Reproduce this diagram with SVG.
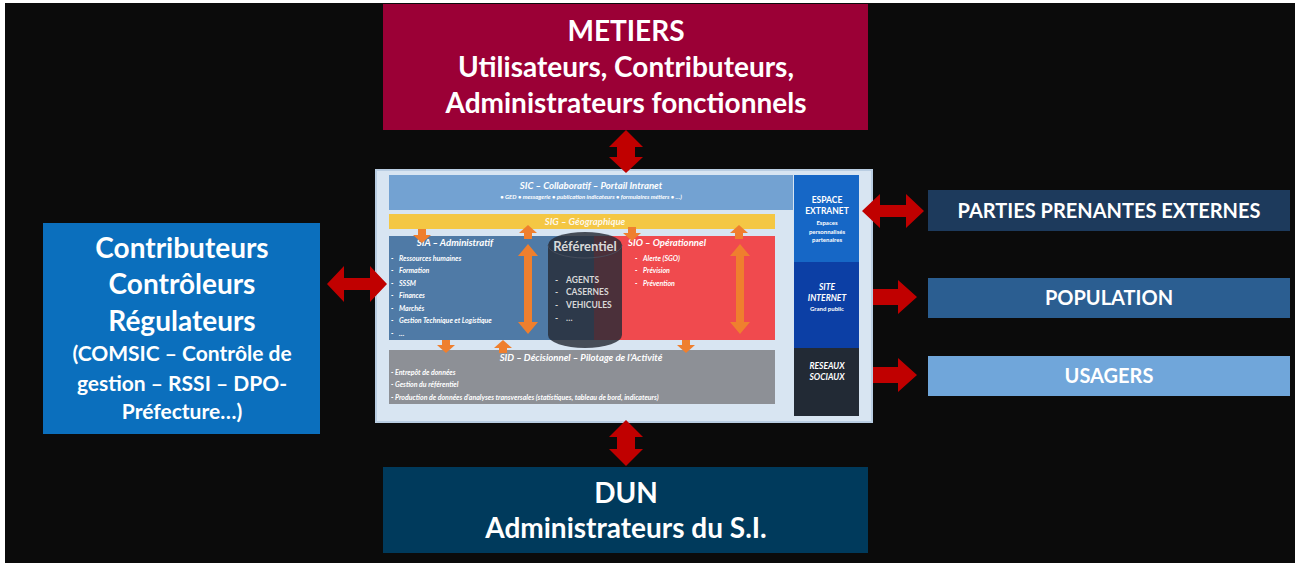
<svg xmlns="http://www.w3.org/2000/svg" width="1295" height="563" viewBox="0 0 1295 563">
<defs>
<style>
.t{font-family:Lato,"Liberation Sans",sans-serif;font-weight:bold;fill:#fff;text-anchor:middle}
.big{font-size:28px}
.mid{font-size:20px}
.s{font-family:Lato,"Liberation Sans",sans-serif;font-weight:bold;font-style:italic;fill:#fff}
.ref{font-family:Lato,"Liberation Sans",sans-serif;font-weight:bold;fill:#d8d8d8}
.red{fill:#c00000}
.or{fill:#ef7f2e}
</style>
</defs>
<rect x="0" y="0" width="1295" height="563" fill="#fff"/>
<rect x="5" y="3" width="1290" height="560" fill="#0b0b0b"/>

<g id="metiers">
<rect x="383" y="4" width="485" height="126" fill="#9b0036"/>
<text class="t big" x="626" y="41">METIERS</text>
<text class="t big" x="626" y="77">Utilisateurs, Contributeurs,</text>
<text class="t big" x="626" y="113">Administrateurs fonctionnels</text>
</g>

<g id="contributeurs">
<rect x="43" y="223" width="277" height="211" fill="#0b6fbd"/>
<text class="t" font-size="28" x="182" y="258">Contributeurs</text>
<text class="t" font-size="28" x="182" y="294">Contrôleurs</text>
<text class="t" font-size="28" x="182" y="331">Régulateurs</text>
<text class="t" font-size="21" x="182" y="361">(COMSIC – Contrôle de</text>
<text class="t" font-size="21" x="182" y="391">gestion – RSSI – DPO-</text>
<text class="t" font-size="21" x="182" y="419">Préfecture…)</text>
</g>

<g id="dun">
<rect x="383" y="467" width="485" height="86" fill="#003a5c"/>
<text class="t big" x="626" y="503">DUN</text>
<text class="t big" x="626" y="538">Administrateurs du S.I.</text>
</g>

<g id="parties">
<rect x="928" y="190" width="362" height="41" fill="#1d3a5c"/>
<text class="t mid" x="1109" y="218">PARTIES PRENANTES EXTERNES</text>
</g>
<g id="population">
<rect x="928" y="278" width="362" height="40" fill="#2b5e91"/>
<text class="t mid" x="1109" y="305">POPULATION</text>
</g>
<g id="usagers">
<rect x="928" y="356" width="362" height="40" fill="#70a6da"/>
<text class="t mid" x="1109" y="383">USAGERS</text>
</g>

<g id="si-map">
<rect x="376" y="170" width="496" height="252" fill="#d8e5f2"/>
<rect x="376" y="170" width="496" height="252" fill="none" stroke="#b9cde2" stroke-width="2"/>

<g id="sic">
<rect x="389" y="175" width="404" height="35" fill="#73a2d2"/>
<text class="s" font-size="9.6" x="591" y="189" text-anchor="middle">SIC – Collaboratif – Portail Intranet</text>
<text class="s" font-size="6" x="591" y="199" text-anchor="middle">• GED • messagerie • publication indicateurs • formulaires métiers • …)</text>
</g>

<g id="sig">
<rect x="389" y="214" width="386" height="15" fill="#f4c744"/>
<text class="s" font-size="9.6" x="585" y="225" text-anchor="middle" fill-opacity="0.9">SIG – Géographique</text>
</g>

<g id="sia">
<rect x="389" y="236" width="205" height="104" fill="#4f7aa6"/>
<text class="s" font-size="9.6" x="455" y="246" text-anchor="middle">SIA – Administratif</text>
<g font-size="7">
<text class="s" x="391" y="261">-</text><text class="s" x="399" y="261">Ressources humaines</text>
<text class="s" x="391" y="273">-</text><text class="s" x="399" y="273">Formation</text>
<text class="s" x="391" y="286">-</text><text class="s" x="399" y="286">SSSM</text>
<text class="s" x="391" y="298">-</text><text class="s" x="399" y="298">Finances</text>
<text class="s" x="391" y="311">-</text><text class="s" x="399" y="311">Marchés</text>
<text class="s" x="391" y="323">-</text><text class="s" x="399" y="323">Gestion Technique et Logistique</text>
<text class="s" x="391" y="336">-</text><text class="s" x="399" y="336">…</text>
</g>
</g>

<g id="sio">
<rect x="594" y="236" width="181" height="104" fill="#f04a4e"/>
<text class="s" font-size="9.6" x="667" y="246" text-anchor="middle">SIO – Opérationnel</text>
<g font-size="7">
<text class="s" x="635" y="261">-</text><text class="s" x="643" y="261">Alerte (SGO)</text>
<text class="s" x="635" y="273">-</text><text class="s" x="643" y="273">Prévision</text>
<text class="s" x="635" y="286">-</text><text class="s" x="643" y="286">Prévention</text>
</g>
</g>

<g id="sid">
<rect x="389" y="350" width="386" height="54" fill="#8d9096"/>
<text class="s" font-size="9.6" x="581" y="361" text-anchor="middle">SID – Décisionnel – Pilotage de l’Activité</text>
<g font-size="7">
<text class="s" x="391" y="375">- Entrepôt de données</text>
<text class="s" x="391" y="387">- Gestion du référentiel</text>
<text class="s" x="391" y="400">- Production de données d’analyses transversales  (statistiques, tableau de bord, indicateurs)</text>
</g>
</g>

<g id="referentiel">
<path d="M548,245 A37,13 0 0 1 622,245 L622,335 A37,13 0 0 1 548,335 Z" fill="#262b36" fill-opacity="0.82"/>
<path d="M548,245 A37,13 0 0 0 622,245" fill="none" stroke="#4a5060" stroke-width="0.8"/>
<text class="ref" font-size="13" x="585" y="251" text-anchor="middle">Référentiel</text>
<g font-size="8.5">
<text class="ref" x="555" y="283">-</text><text class="ref" x="566" y="283">AGENTS</text>
<text class="ref" x="555" y="295">-</text><text class="ref" x="566" y="295">CASERNES</text>
<text class="ref" x="555" y="308">-</text><text class="ref" x="566" y="308">VEHICULES</text>
<text class="ref" x="555" y="321">-</text><text class="ref" x="566" y="321">…</text>
</g>
</g>

<g id="extranet">
<rect x="794" y="175" width="65" height="87" fill="#1667c6"/>
<text class="t" font-size="8.5" x="827" y="203">ESPACE</text>
<text class="t" font-size="8.5" x="827" y="214">EXTRANET</text>
<text class="t" font-size="6" x="827" y="225">Espaces</text>
<text class="t" font-size="6" x="827" y="234">personnalisés</text>
<text class="t" font-size="6" x="827" y="242">partenaires</text>
</g>
<g id="internet">
<rect x="794" y="262" width="65" height="86" fill="#0c3fa5"/>
<text class="t" font-size="8.5" font-style="italic" x="827" y="290">SITE</text>
<text class="t" font-size="8.5" font-style="italic" x="827" y="301">INTERNET</text>
<text class="t" font-size="6" x="827" y="311">Grand public</text>
</g>
<g id="reseaux">
<rect x="794" y="348" width="65" height="68" fill="#222a35"/>
<text class="t" font-size="8.5" font-style="italic" fill="#e6e6e6" x="827" y="369">RESEAUX</text>
<text class="t" font-size="8.5" font-style="italic" fill="#e6e6e6" x="827" y="380">SOCIAUX</text>
</g>
</g>

<g id="connectors">
<!-- orange arrows -->
<path class="or" d="M418,229 h8 v6 h5 l-9,8 l-9,-8 h5 z"/>
<path class="or" d="M524,239 h8 v-6 h5 l-9,-8 l-9,8 h5 z"/>
<path class="or" d="M628,227 h8 v6 h5 l-9,8 l-9,-8 h5 z"/>
<path class="or" d="M735,239 h8 v-6 h5 l-9,-8 l-9,8 h5 z"/>
<path class="or" d="M528,244 l10,12 h-6 v66 h6 l-10,12 l-10,-12 h6 v-66 h-6 z"/>
<path class="or" d="M740,244 l10,12 h-6 v66 h6 l-10,12 l-10,-12 h6 v-66 h-6 z"/>
<path class="or" d="M442,340 h8 v5 h5 l-9,8 l-9,-8 h5 z"/>
<path class="or" d="M499,353 h8 v-5 h5 l-9,-8 l-9,8 h5 z"/>
<path class="or" d="M682,340 h8 v5 h5 l-9,8 l-9,-8 h5 z"/>
<!-- red arrows -->
<path class="red" d="M327,284 l17,-18 v12 h26 v-12 l17,18 l-17,18 v-12 h-26 v12 z"/>
<path class="red" d="M626,130 l17,17 h-8 v10 h8 l-17,16 l-17,-16 h8 v-10 h-8 z"/>
<path class="red" d="M626,420 l17,17 h-8 v12 h8 l-17,17 l-17,-17 h8 v-12 h-8 z"/>
<path class="red" d="M862,211 l18,-17 v11 h26 v-11 l18,17 l-18,17 v-11 h-26 v11 z"/>
<path class="red" d="M873,289 h25 v-9 l19,17 l-19,17 v-9 h-25 z"/>
<path class="red" d="M873,367 h25 v-9 l19,17 l-19,17 v-9 h-25 z"/>
</g>
</svg>
